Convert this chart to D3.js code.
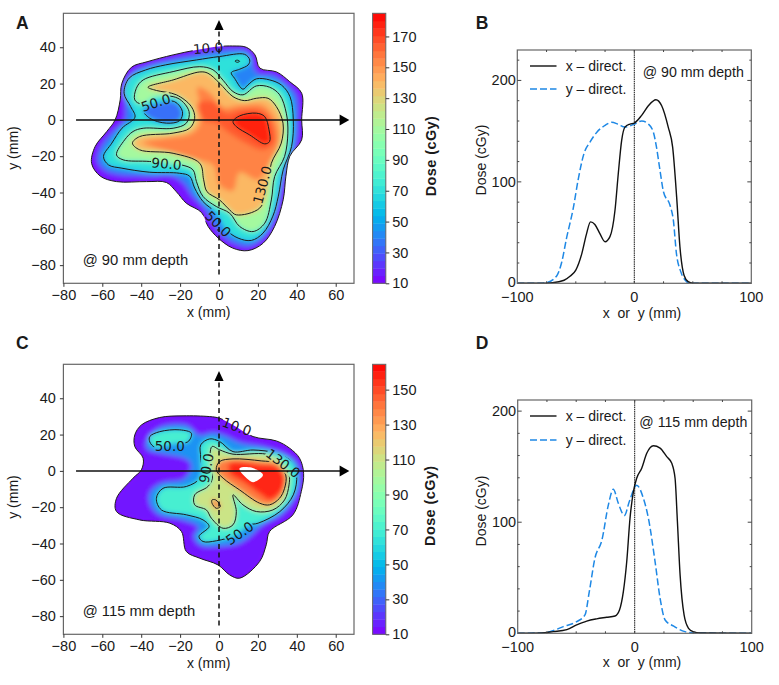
<!DOCTYPE html>
<html><head><meta charset="utf-8">
<script src="https://cdn.jsdelivr.net/npm/d3@7"></script>
<style>
html,body{margin:0;padding:0;background:#fff}
svg{display:block}
text{font-family:"Liberation Sans",Arial,sans-serif;fill:#1a1a1a}
</style></head><body><svg id="c" width="779" height="685"></svg>
<script>
// ---------- Panel A iso-dose outlines, mm ----------
const isoA10=[[0,40.4],[7,40.7],[14,40],[18.5,35.8],[21,28.5],[29.6,26.4],[36.4,21],[42.5,14.7],[42.5,0],[42.5,-11],[36.4,-20],[34.4,-31],[33,-44],[28.6,-58.7],[22.6,-68],[14.9,-72],[7,-70.6],[-0.5,-65],[-5.6,-58.7],[-9,-51],[-16.8,-45.9],[-21.9,-39.6],[-27,-34.5],[-37.3,-34],[-52.7,-34],[-61,-31],[-65.5,-24],[-63.7,-14.7],[-57.7,-6.4],[-53.4,0],[-50.8,11],[-50,20],[-45,29],[-37,32],[-23.6,35.8],[-11.6,38.5]];
const isoA30=[[0,38],[8,38.6],[14,38],[17,33.5],[18,28],[21,25],[28,24.5],[34,20],[39.5,13.5],[40.4,0],[39.5,-13],[35.5,-24],[32,-36],[31,-44],[28,-56],[22.5,-65],[15.5,-69.5],[8,-68],[1,-63],[-4,-55],[-8,-48],[-14,-41.5],[-18,-35],[-24,-31],[-36,-31],[-52,-30],[-59,-27.5],[-62.5,-22],[-60,-14],[-54,-6],[-48.5,0],[-48,9],[-47.5,17],[-44,26],[-37,29.5],[-25,33],[-11.5,35.7]];
const isoA50=[[13.2,36.1],[15.8,33],[15,30.3],[10.6,27.9],[6.3,26],[8,22.9],[12.3,16.9],[14.9,19.3],[19.2,22.6],[26.1,22],[32.2,19.1],[36.5,12.8],[38.2,0],[37.3,-14.7],[33,-27.5],[30.5,-42],[27.7,-53],[22.6,-62.4],[16.6,-66.4],[9.8,-65.1],[3.8,-60.6],[-1.4,-51.4],[-8.2,-45],[-12.5,-37.6],[-15.1,-31],[-20.2,-29.4],[-35.9,-28.8],[-49.9,-26.6],[-56.8,-24.8],[-59.4,-20.2],[-55.1,-12.8],[-49.9,-4.6],[-43.2,1.5],[-45.4,7.3],[-48.8,14.7],[-46.2,23],[-37.7,27.5],[-27.4,30.3],[-11.6,33],[0.3,34.9]];
const isoA90=[[-43.3,11],[-42.5,17.4],[-39,22],[-23.6,26.6],[-9.9,29.3],[-3.1,27.6],[2.1,21.8],[7.2,15.6],[12.3,13.8],[19.2,18.7],[26,18],[31.2,13.8],[34.6,3.7],[35.4,-7.3],[33.7,-20.2],[28.6,-31.2],[26.9,-44.1],[23.5,-56.9],[17.5,-61.5],[10.6,-58.7],[5.5,-51.4],[-1.4,-47.7],[-8.2,-42.2],[-11.6,-34],[-13.4,-27.5],[-19.3,-24.8],[-35.6,-22.9],[-49.3,-22],[-52.7,-19.3],[-48.5,-11],[-44.2,-6.4],[-39,-4.6],[-23.6,-4.6],[-16.8,-1.8],[-15.4,4.6],[-21.1,11.9],[-32.2,12.8],[-39.9,8.8]];
const isoA130=[[-36.5,18],[-32.2,16.2],[-21.9,13.8],[-14.2,7.3],[-12.5,0.9],[-15.1,-4.6],[-23.6,-7.3],[-40.8,-9.2],[-44.5,-12.8],[-40.8,-16.5],[-23.6,-18.4],[-9.9,-23.9],[-7.9,-33],[-6.2,-39.5],[0.3,-44.1],[5.5,-49.6],[8.9,-52.3],[20.9,-48.6],[25.2,-35.8],[26.9,-23.9],[32,-12.8],[32.9,-1.8],[29.5,7.3],[25.2,11.9],[19.2,11.9],[13.2,10.6],[7.2,12.8],[0.3,20.2],[-5.7,25.7],[-9.9,26.4],[-23.6,22]];
const isoA150=[[-11,18],[-4.8,15],[2.1,7],[10.6,8],[22.6,8],[29.6,-1.8],[30.5,-12.8],[25.3,-24.9],[20.2,-33],[10.6,-29],[7.2,-39],[0.3,-36],[-3.1,-25],[-13.4,-21.5],[-32.2,-15.5],[-39.3,-12.5],[-27,-10],[-14.1,-7.3],[-9.8,-1.8],[-9.9,8.3]];
const isoA160=[[-10.8,9.2],[-3.1,10],[3.8,3.7],[10.6,5.5],[22.6,4.6],[27.7,-3.7],[28.1,-12.8],[22.6,-16.5],[14,-12.8],[5.5,-7.3],[-1.4,-1.8],[-8.2,0]];
const isoA170=[[7.2,-0.9],[10.6,2.2],[19.2,3.7],[23.5,1.8],[25.7,-5.5],[26,-11.9],[23.5,-13.2],[15.8,-8.3],[8.9,-3.7]];
const holeA50=[[-39,5.5],[-30.5,9.5],[-22.8,10],[-18.8,4.6],[-20.2,-0.4],[-27,-1.8],[-35.6,0.9]];
const spotA90=[[8.2,32.4],[9.4,32.9],[10.6,32.3],[9.4,31.7]];
const labelsA=[["10.0",-5.6,39.5,-5],["50.0",-32.5,9.5,-18],["90.0",-27,-24.2,5],["130.0",22.3,-35.8,-75],["50.0",-0.5,-57.3,45]];
// ---------- Panel C iso-dose outlines, mm ----------
const isoC10=[[-43.3,19.8],[-39.9,25.3],[-30.5,29.4],[-18.5,30.3],[-4.8,29.9],[0.3,29],[7.2,25.3],[17.5,18.9],[29.5,16.5],[36.3,12.5],[41.4,7],[43.5,-1.3],[42.3,-11.4],[38,-24.2],[26,-33.4],[24.3,-40.7],[20.9,-49.9],[10.6,-59.1],[5.5,-57.3],[-0.5,-51.8],[-9.9,-48.1],[-16.8,-44.4],[-19.3,-33.4],[-25.3,-28.8],[-40.8,-27],[-52.7,-22.4],[-52.7,-15.1],[-44.2,-4],[-39.9,0.6],[-39,7],[-43.3,13.4]];
const isoC30=[[-37.5,15.5],[-31,23.5],[-16.8,25],[-9.9,19.6],[-3.1,21],[3.8,19],[10.6,15.5],[24.3,12.8],[34,9],[40,4],[41.5,-4],[39.8,-13],[32.4,-23.6],[22,-30],[17,-35],[10,-40],[0.3,-41.5],[-9.5,-41],[-13,-36],[-10.6,-31],[-19.5,-26.8],[-31,-24],[-35.5,-18.2],[-35.5,-12],[-30,-7],[-18,-4.5],[-14.2,3],[-17,6.5],[-30,9.7],[-36.5,11.6]];
const isoC50=[[-9.4,14.3],[-4.8,17.6],[0.3,16.2],[7.2,10.6],[17.5,11.5],[29.5,9.7],[37.2,5.1],[39.9,-2.2],[38.2,-13.2],[31.3,-22.4],[20.1,-28.8],[14.9,-29.9],[8.9,-35.2],[-1.4,-38.5],[-8.2,-38.9],[-10.3,-36.1],[-5.1,-30.6],[-8.2,-27],[-16.8,-24.2],[-29.6,-21.5],[-32.2,-15.1],[-28.8,-9.6],[-16.8,-8.6],[-9.9,-4],[-9.4,7]];
const topC50=[[-35.6,18.9],[-30.5,21.6],[-20.2,22.6],[-14.2,20.7],[-16,16],[-23.6,15],[-32.9,13],[-35.6,16]];
const isoC90=[[-3.6,13.4],[0.3,11.6],[7.2,9.2],[24.3,9.2],[32,5.1],[36,-2.2],[36,-7.7],[33.7,-16],[27.7,-21.5],[19.2,-22.4],[12.3,-18.7],[7.2,-13.2],[8.9,-22.4],[7.2,-29.7],[2.1,-31.6],[-3.9,-26.1],[-6.5,-21.5],[-12.5,-18.7],[-12.5,-13.2],[-5.7,-8.6],[-3.4,-4],[-4.5,2.4]];
const isoC130=[[-1.4,0.6],[0.3,5.1],[7.2,6.6],[21.7,5.5],[29.5,4.2],[34.3,-2.2],[33.7,-9.6],[31.1,-15.1],[26,-18.7],[20.9,-17.8],[10.6,-10.5],[2.1,-4]];
const spotC130=[[-3.6,-16],[-1.7,-16],[0.7,-19.6],[-1.4,-20.6],[-3.6,-17.8]];
const isoC150=[[5.5,4.2],[20.9,3.3],[29.5,2.4],[33.7,-4],[32,-11.4],[26,-16],[21.7,-13.2],[12.3,-5.9],[5.5,-1.3]];
const overC=[[10.6,1.5],[16.6,1.8],[22.6,-2.2],[17.5,-6.2],[14.2,-4],[11,-0.4]];
const labelsC=[["10.0",9.2,24.4,20],["50.0",-25.3,13.4,0],["130.0",32.9,4.2,37],["90.0",-6.5,1.5,-80],["50.0",10.6,-34.3,-35]];
// ---------- Profiles: [mm, cGy] ----------
const profileBx=[[-100,0],[-80,0],[-70,0.5],[-60,3],[-55,7],[-50,13],[-44.8,29.5],[-41,48],[-37.4,60.6],[-33.7,58],[-29.4,49],[-25,41],[-20.8,46],[-16.5,72],[-13.7,108],[-10.8,141],[-8,154],[-3.7,157],[0,158],[6.3,165.6],[12,175],[18.5,181],[23.4,175],[29,154],[32.8,134],[36.2,85],[39,36],[42.5,8],[46,1.6],[50,0],[100,0]];
const profileBy=[[-100,0],[-80,0],[-75,0.6],[-66.5,7],[-62,21],[-58,44],[-52,75],[-48,102],[-43,128],[-38,139],[-32,149],[-25,155.7],[-19.4,158.7],[-13.7,156.7],[-8,154],[0,157],[6.3,160],[12,157],[16.3,149],[19,134],[22,111],[25,90],[30.5,77],[33.4,62],[36,29.5],[39.7,11.5],[43.4,3.3],[47.6,0],[100,0]];
const profileDx=[[-100,0],[-80,0.3],[-69.6,1.5],[-58,3.3],[-49.6,7.5],[-41,11],[-32.5,13],[-24,14.4],[-16.8,15.6],[-13,21],[-9.7,37.5],[-6.8,64.6],[-4,103.6],[-1.1,127.6],[1.7,139.6],[6,148.6],[10.3,162],[16,168.8],[21.7,166.7],[27.4,159],[31.7,153],[34.5,139.6],[36.5,100.6],[38.8,52.6],[42.2,16.5],[46,4.5],[50,1.5],[56,0.3],[100,0]];
const profileDy=[[-100,0],[-80,0.3],[-72.5,1.5],[-61,6],[-49.6,10.5],[-42.5,16.5],[-38.8,37.5],[-34,67.6],[-28,84],[-22.5,115.6],[-18.3,129.7],[-14,117],[-8.8,106],[-4.6,118.6],[1.7,133.3],[7.4,121.6],[11.7,103.6],[17.4,64.6],[21.7,31.5],[26,12],[33,6.6],[43,1.5],[50,0.3],[100,0]];
// ---------- Axis tick values ----------
const mapXTicks=[-80,-60,-40,-20,0,20,40,60];
const mapYTicks=[-80,-60,-40,-20,0,20,40];
const barTicksA=[10,30,50,70,90,110,130,150,170];
const barTicksC=[10,30,50,70,90,110,130,150];
const profXTicks=[-100,0,100];
const profYTicks=[0,100,200];

const svg=d3.select("#c");
const defs=svg.append("defs");
const f=defs.append("filter").attr("id","soft").attr("x","-10%").attr("y","-10%").attr("width","120%").attr("height","120%");
f.append("feGaussianBlur").attr("stdDeviation",2.4);
const FRAME="#666";

function rainbow(t){ t=Math.max(0,Math.min(1,t));
  const r=Math.min(1,Math.abs(2*t-0.5)),g=Math.sin(Math.PI*t),b=Math.cos(Math.PI*t/2);
  return d3.rgb(r*255,g*255,b*255).formatHex();}
const txt=(g,x,y,s,size,o={})=>g.append("text").attr("x",x).attr("y",y).attr("font-size",size)
  .attr("text-anchor",o.anchor||"start").attr("font-weight",o.weight||"normal")
  .attr("transform",o.rot!=null?`rotate(${o.rot},${x},${y})`:null).text(s);

function mapPanel(c){
  const g=svg.append("g");
  const x=d3.scaleLinear().domain([-80,69.4]).range([63.4,354]);
  const y=d3.scaleLinear().domain([-90,58.7]).range([c.bottom,c.bottom-270]);
  const color=d3.scaleLinear().domain([10,c.vmax]).range([0,1]);
  const line=d3.line().x(d=>x(d[0])).y(d=>y(d[1])).curve(d3.curveCatmullRomClosed.alpha(0.5));
  const clip=defs.append("clipPath").attr("id","clip"+c.id);
  clip.append("path").attr("d",line(c.bands[0].polys[0]));
  const fills=g.append("g").attr("clip-path",`url(#clip${c.id})`).append("g").attr("filter","url(#soft)");
  fills.append("rect").attr("x",x(-80)).attr("y",y(58.7)).attr("width",x(69.4)-x(-80)).attr("height",270).attr("fill",rainbow(0));
  c.bands.forEach((b,i)=>{
    const hi=i+1<c.bands.length?c.bands[i+1].level:c.vmax;
    const mid=i===0?14:(b.level+hi)/2;
    const col=rainbow(color(mid));
    b.polys.forEach(p=>fills.append("path").attr("d",line(p)).attr("fill",col));
  });
  (c.under||[]).forEach(p=>fills.append("path").attr("d",line(p.poly)).attr("fill",rainbow(color(p.level))));
  if(c.over) g.append("path").attr("d",line(c.over)).attr("fill","#fff");
  // line gaps where the contour labels sit
  const mask=defs.append("mask").attr("id","gap"+c.id).attr("maskUnits","userSpaceOnUse")
    .attr("x",0).attr("y",0).attr("width",779).attr("height",685);
  mask.append("rect").attr("width",779).attr("height",685).attr("fill","#fff");
  c.labels.forEach(l=>{const w=l[0].length*7.8;
    mask.append("rect").attr("x",-w/2).attr("y",-7).attr("width",w).attr("height",14).attr("fill","#000")
      .attr("transform",`translate(${x(l[1])},${y(l[2])}) rotate(${l[3]})`);});
  const lines=g.append("g").attr("mask",`url(#gap${c.id})`);
  c.lines.forEach(p=>lines.append("path").attr("d",line(p)).attr("fill","none").attr("stroke","#1c1c1c").attr("stroke-width",1));
  c.labels.forEach(l=>g.append("text").attr("font-size",13.5).attr("text-anchor","middle").attr("dy","0.36em")
    .style("font-family","'DejaVu Sans'").attr("transform",`translate(${x(l[1])},${y(l[2])}) rotate(${l[3]})`).text(l[0]));
  // frame and axes
  g.append("rect").attr("x",x(-80)).attr("y",c.bottom-270).attr("width",x(69.4)-x(-80)).attr("height",270)
    .attr("fill","none").attr("stroke",FRAME).attr("stroke-width",1.2);
  const ax=g.append("g").attr("transform",`translate(0,${c.bottom})`).call(d3.axisBottom(x).tickValues(mapXTicks).tickSize(3.5).tickPadding(3).tickFormat(d3.format("d")));
  const ay=g.append("g").attr("transform",`translate(63.4,0)`).call(d3.axisLeft(y).tickValues(mapYTicks).tickSize(3.5).tickPadding(4).tickFormat(d3.format("d")));
  [ax,ay].forEach(a=>{a.select(".domain").remove();a.selectAll("text").attr("font-size",14.5).style("font-family","'Liberation Sans'").attr("fill","#1a1a1a");a.selectAll("line").attr("stroke","#333");});
  txt(g,208.7,c.bottom+34,"x (mm)",14,{anchor:"middle"});
  txt(g,17.5,c.ylabelY,"y (mm)",14,{anchor:"middle",rot:-90});
  txt(g,82.7,c.bottom-18.2,c.note,14.8);
  // reference axes with arrows
  const arrows=g.append("g");
  arrows.append("line").attr("x1",x(-73.5)).attr("x2",x(63)).attr("y1",y(0)).attr("y2",y(0)).attr("stroke","#111").attr("stroke-width",1.5);
  arrows.append("path").attr("d",`M${x(62)},${y(0)-5.5}L${x(67)},${y(0)}L${x(62)},${y(0)+5.5}Z`).attr("fill","#000");
  arrows.append("line").attr("x1",x(0)).attr("x2",x(0)).attr("y1",y(-85.2)).attr("y2",y(50)).attr("stroke","#111").attr("stroke-width",1.5).attr("stroke-dasharray","5 3.5");
  arrows.append("path").attr("d",`M${x(0)-4.6},${y(49.5)}L${x(0)},${y(55)}L${x(0)+4.6},${y(49.5)}Z`).attr("fill","#000");
  // colour bar
  const cy=d3.scaleLinear().domain([10,c.vmax]).range([c.bottom,c.bottom-270]);
  const steps=d3.range(10,c.vmax,c.barStep);
  g.selectAll(null).data(steps).join("rect").attr("x",372.6).attr("width",13.2)
    .attr("y",d=>cy(Math.min(d+c.barStep,c.vmax))).attr("height",d=>cy(d)-cy(Math.min(d+c.barStep,c.vmax))+0.4)
    .attr("fill",d=>rainbow(color(d+c.barStep/2)));
  g.append("rect").attr("x",372.6).attr("y",c.bottom-270).attr("width",13.2).attr("height",270).attr("fill","none").attr("stroke",FRAME).attr("stroke-width",1);
  const bx=g.append("g").attr("transform","translate(385.8,0)").call(d3.axisRight(cy).tickValues(c.barTicks).tickSize(3.5).tickPadding(3).tickFormat(d3.format("d")));
  bx.select(".domain").remove();bx.selectAll("text").attr("font-size",14.5).style("font-family","'Liberation Sans'").attr("fill","#1a1a1a");bx.selectAll("line").attr("stroke","#333");
  txt(g,435.5,c.barLabelY,"Dose (cGy)",14.5,{anchor:"middle",rot:-90,weight:"bold"}).attr("letter-spacing",0.4);
  txt(g,16,c.letterY,c.letter,17.5,{weight:"bold"});
}

function profilePanel(c){
  const g=svg.append("g");
  const x=d3.scaleLinear().domain([-100,100]).range([c.left,c.left+234]);
  const y=d3.scaleLinear().domain([0,c.ymax]).range([c.bottom,c.top]);
  const line=d3.line().x(d=>x(d[0])).y(d=>y(d[1])).curve(d3.curveMonotoneX);
  g.append("line").attr("x1",x(0)).attr("x2",x(0)).attr("y1",c.top).attr("y2",c.bottom).attr("stroke","#111").attr("stroke-width",1).attr("stroke-dasharray","1.5 0.7");
  g.append("path").attr("d",line(c.yd)).attr("fill","none").attr("stroke","#1e88e5").attr("stroke-width",1.5).attr("stroke-dasharray","7 3");
  g.append("path").attr("d",line(c.xd)).attr("fill","none").attr("stroke","#111").attr("stroke-width",1.4);
  g.append("rect").attr("x",c.left).attr("y",c.top).attr("width",234).attr("height",c.bottom-c.top).attr("fill","none").attr("stroke",FRAME).attr("stroke-width",1.2);
  const minorX=d3.range(-75,100,25), minorY=d3.range(20,c.ymax,20);
  const tick=(x1,y1,x2,y2)=>g.append("line").attr("x1",x1).attr("y1",y1).attr("x2",x2).attr("y2",y2).attr("stroke","#444").attr("stroke-width",1);
  minorX.forEach(v=>{tick(x(v),c.bottom,x(v),c.bottom-2);tick(x(v),c.top,x(v),c.top+2);});
  minorY.forEach(v=>{const big=profYTicks.includes(v),l=big?4:2;tick(c.left,y(v),c.left+l,y(v));tick(c.left+234,y(v),c.left+234-l,y(v));});
  profXTicks.forEach(v=>g.append("text").attr("x",x(v)).attr("y",c.xTickY+1.5).attr("text-anchor","middle").attr("font-size",14.5).text(d3.format("d")(v)));
  profYTicks.forEach(v=>g.append("text").attr("x",c.left-1.5).attr("y",y(v)+(v===0?3.2:5)).attr("text-anchor","end").attr("font-size",14.5).text(v));
  txt(g,642,c.xLabelY,"x  or  y (mm)",14,{anchor:"middle"}).style("white-space","pre");
  txt(g,486,c.yLabelY,"Dose (cGy)",14,{anchor:"middle",rot:-90});
  g.append("line").attr("x1",530).attr("x2",556.5).attr("y1",c.leg1).attr("y2",c.leg1).attr("stroke","#111").attr("stroke-width",1.4);
  g.append("line").attr("x1",530).attr("x2",556.5).attr("y1",c.leg2).attr("y2",c.leg2).attr("stroke","#1e88e5").attr("stroke-width",1.5).attr("stroke-dasharray","7 3");
  txt(g,565.7,c.leg1+4.5,"x – direct.",14);
  txt(g,565.7,c.leg2+4.5,"y – direct.",14);
  txt(g,c.noteX,c.noteY,c.note,14.2);
  txt(g,475.7,c.letterY,c.letter,17.5,{weight:"bold"});
}

mapPanel({id:"A",letter:"A",letterY:29,bottom:283.3,vmax:185,barStep:4.86,barTicks:barTicksA,ylabelY:148,barLabelY:156,note:"@ 90 mm depth",
  bands:[{level:10,polys:[isoA10]},{level:30,polys:[isoA30]},{level:50,polys:[isoA50]},{level:90,polys:[isoA90]},{level:130,polys:[isoA130]},{level:150,polys:[isoA150]},{level:160,polys:[isoA160]},{level:170,polys:[isoA170]}],
  under:[{poly:holeA50,level:35}],
  lines:[isoA10,isoA50,holeA50,isoA90,spotA90,isoA130,isoA170],labels:labelsA});
mapPanel({id:"C",letter:"C",letterY:349,bottom:634.3,vmax:164.5,barStep:4.3,barTicks:barTicksC,ylabelY:497,barLabelY:505.7,note:"@ 115 mm depth",
  bands:[{level:10,polys:[isoC10]},{level:30,polys:[isoC30]},{level:50,polys:[isoC50,topC50]},{level:90,polys:[isoC90]},{level:130,polys:[isoC130,spotC130]},{level:150,polys:[isoC150]}],
  over:overC,lines:[isoC10,isoC50,topC50,isoC90,isoC130,spotC130],labels:labelsC});
profilePanel({letter:"B",letterY:29,left:517.3,top:50,bottom:283.3,ymax:230,xd:profileBx,yd:profileBy,xTickY:300,xLabelY:317.5,yLabelY:160,leg1:66,leg2:89,note:"@ 90 mm depth",noteX:642.7,noteY:77});
profilePanel({letter:"D",letterY:349,left:517.7,top:400,bottom:633.3,ymax:210,xd:profileDx,yd:profileDy,xTickY:650,xLabelY:667,yLabelY:511,leg1:416,leg2:440,note:"@ 115 mm depth",noteX:639.3,noteY:427});
</script></body></html>
